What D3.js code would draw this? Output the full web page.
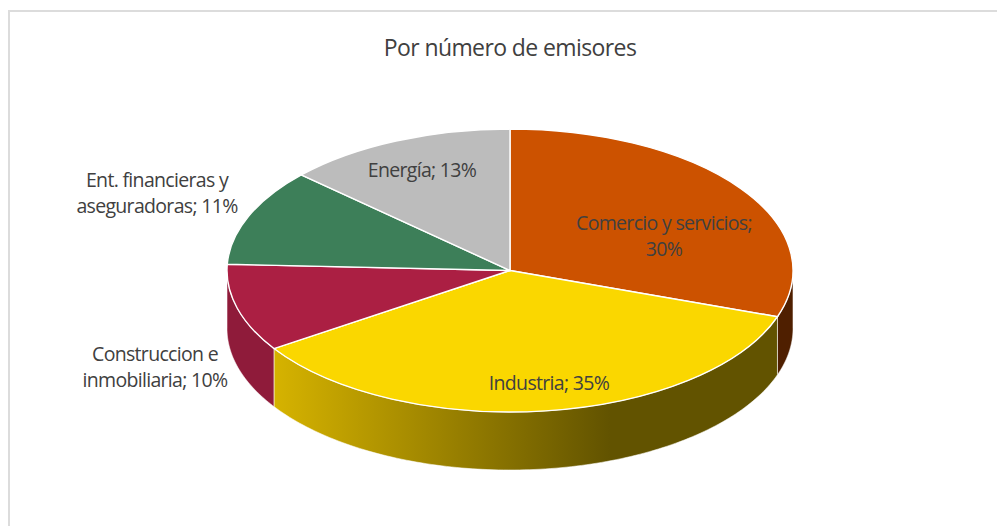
<!DOCTYPE html>
<html>
<head>
<meta charset="utf-8">
<script src="https://cdn.jsdelivr.net/npm/d3@7/dist/d3.min.js"></script>
<style>
html,body{margin:0;padding:0;background:#fff;}
svg{display:block;}
text{font-family:"Open Sans",sans-serif;fill:#404040;}
</style>
</head>
<body>
<svg id="chart" width="997" height="526"></svg>
<script>
const categories = ["Comercio y servicios", "Industria", "Construccion e inmobiliaria", "Ent. financieras y aseguradoras", "Energía"];
const values = [30.3, 35.4, 10.0, 11.1, 13.2];
const percentLabels = ["30%", "35%", "10%", "11%", "13%"];
const topColors = ["#cc5200", "#fad700", "#ab1f43", "#3d7f59", "#bcbcbc"];
const wallColors = ["#4f1f00", "url(#wallGold)", "#8f1b3a", "#2c5c40", "#888888"];
const labelLines = [
  ["Comercio y servicios;", "30%"],
  ["Industria; 35%"],
  ["Construccion e", "inmobiliaria; 10%"],
  ["Ent. financieras y", "aseguradoras; 11%"],
  ["Energía; 13%"]
];
const labelAnchors = [[664, 230], [549, 390], [155, 361], [157, 187], [422, 177]];
const titleText = "Por número de emisores";

const W = 997, H = 526;
const cx = 510, cy = 270.5, rx = 283, ry = 141.5, depth = 58;
const svg = d3.select("#chart");

// frame: top and left rules only
svg.append("rect").attr("x", 8).attr("y", 10).attr("width", W - 8).attr("height", 2).attr("fill", "#dcdcdc");
svg.append("rect").attr("x", 8).attr("y", 10).attr("width", 2).attr("height", H - 10).attr("fill", "#dcdcdc");

const defs = svg.append("defs");
const grad = defs.append("linearGradient").attr("id", "wallGold")
  .attr("gradientUnits", "userSpaceOnUse").attr("x1", 274).attr("x2", 610).attr("y1", 0).attr("y2", 0);
grad.append("stop").attr("offset", "0%").attr("stop-color", "#d6b300");
grad.append("stop").attr("offset", "100%").attr("stop-color", "#625300");

const pie = d3.pie().sort(null).value(d => d);
const slices = pie(values);

const px = a => cx + rx * Math.sin(a);
const py = a => cy - ry * Math.cos(a);

// side walls: only the front half of the ellipse (angles between PI/2 and 3PI/2)
const walls = svg.append("g");
slices.forEach((s, i) => {
  const a0 = Math.max(s.startAngle, Math.PI / 2);
  const a1 = Math.min(s.endAngle, 3 * Math.PI / 2);
  if (a1 <= a0) return;
  const p = d3.path();
  p.moveTo(px(a0), py(a0));
  const steps = d3.range(0, 121).map(k => a0 + (a1 - a0) * k / 120);
  steps.forEach(a => p.lineTo(px(a), py(a)));
  steps.slice().reverse().forEach(a => p.lineTo(px(a), py(a) + depth));
  p.closePath();
  walls.append("path").attr("d", p.toString())
    .attr("fill", wallColors[i])
    .attr("stroke", "#fff").attr("stroke-opacity", 0.55).attr("stroke-width", 1);
});

// top face: unit arc squashed to an ellipse
const arc = d3.arc().innerRadius(0).outerRadius(rx);
svg.append("g")
  .attr("transform", `translate(${cx},${cy}) scale(1,${ry / rx})`)
  .selectAll("path").data(slices).join("path")
  .attr("d", arc)
  .attr("fill", (d, i) => topColors[i])
  .attr("stroke", "#fff")
  .attr("stroke-width", 1.4)
  .attr("vector-effect", "non-scaling-stroke");

// title
svg.append("text").attr("x", 510).attr("y", 56).attr("text-anchor", "middle")
  .attr("font-size", 23).attr("letter-spacing", -0.6).text(titleText);

// data labels
labelLines.forEach((lines, i) => {
  const [x, y] = labelAnchors[i];
  lines.forEach((line, j) => {
    svg.append("text").attr("x", x).attr("y", y + j * 26)
      .attr("text-anchor", "middle").attr("font-size", 19.5)
      .attr("letter-spacing", -0.68).text(line);
  });
});
</script>
</body>
</html>
